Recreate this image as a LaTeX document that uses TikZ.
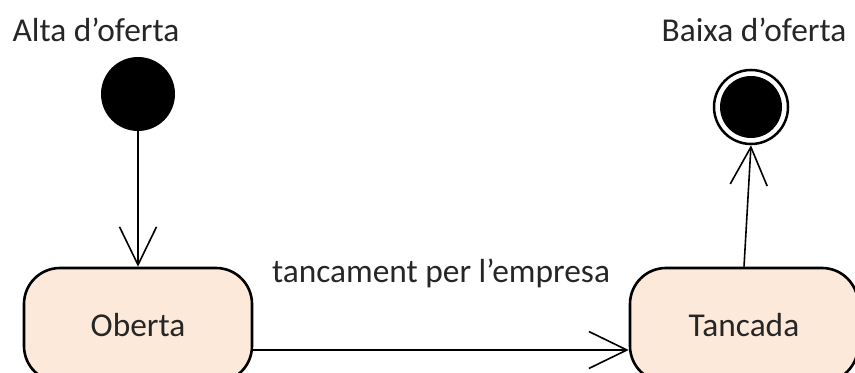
\documentclass[tikz,border=0pt]{standalone}
\usepackage{fontspec}
\setmainfont{Carlito}
\usetikzlibrary{arrows.meta}
\definecolor{statefill}{HTML}{FDE9D9}
\definecolor{textgray}{HTML}{262626}
\begin{document}
\begin{tikzpicture}[>={Straight Barb[length=38bp,width=37bp]},line join=bevel,
  every node/.style={font=\fontsize{33.5}{40}\selectfont,text=textgray},
  statebox/.style={draw=black,line width=2.6bp,fill=statefill,rounded corners=36bp,
    minimum width=228bp,minimum height=114bp,inner sep=0pt},
  conn/.style={black,line width=1.6bp,->}]
\useasboundingbox (0bp,0bp) rectangle (855bp,373bp);
%%
\node (node_alta) at (96bp,343bp) [draw=none] {Alta d’oferta};
  \node (node_baixa) at (754bp,343bp) [draw=none] {Baixa d’oferta};
  \node (node_inici) at (138bp,279bp) [circle,fill=black,minimum size=74bp,inner sep=0pt] {};
  \node (node_final) at (751bp,266bp) [circle,draw=black,line width=2.5bp,minimum size=74bp,inner sep=0pt] {};
  \fill[black] (node_final.center) circle (31bp);
  \node (node_oberta) at (138bp,48bp) [statebox] {Oberta};
  \node (node_tancada) at (744bp,48bp) [statebox] {Tancada};
  \draw [conn] (node_inici) -- (node_oberta.north);
  \draw [conn] ([yshift=-25bp]node_oberta.east) -- node[midway,yshift=77bp] (node_etiqueta) {tancament per l’empresa} ([yshift=-25bp]node_tancada.west);
  \draw [conn] (node_tancada.north) -- (node_final.south);
%
\end{tikzpicture}
\end{document}
